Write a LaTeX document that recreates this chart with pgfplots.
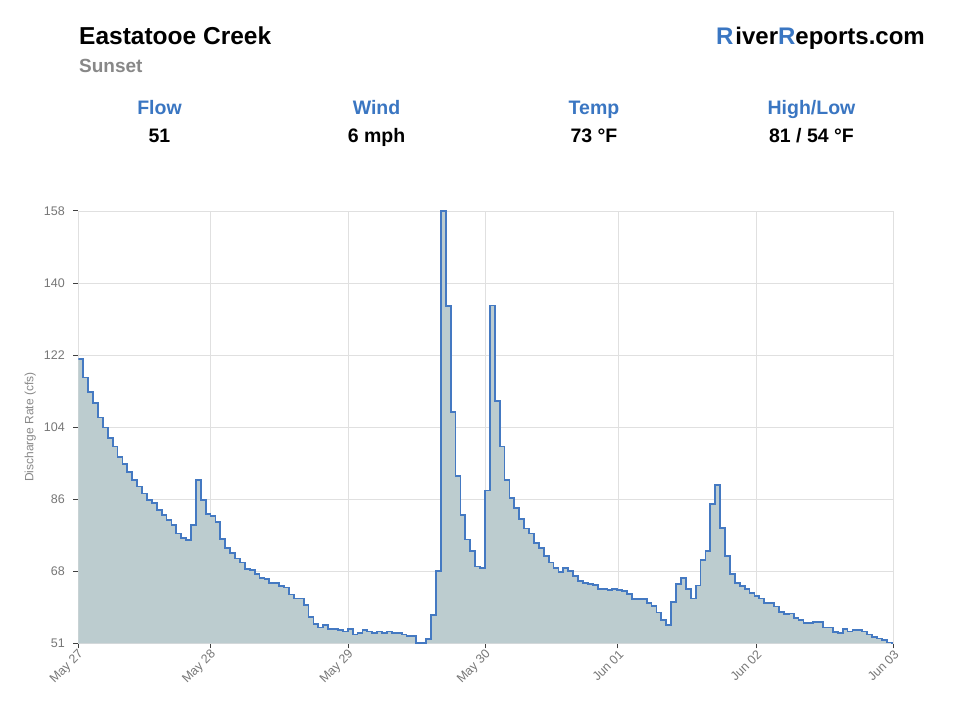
\documentclass[border=0pt]{standalone}
\usepackage{pgfplots}
\usepackage{pgfplotstable}
\pgfplotsset{compat=1.18}
\usepackage{fontspec}
\setmainfont{Liberation Sans}
\definecolor{linec}{HTML}{4479C2}
\definecolor{fillc}{HTML}{BCCCCF}
\definecolor{bluet}{HTML}{3A76C2}
\definecolor{gridc}{HTML}{E0E0E0}
\definecolor{grayt}{HTML}{888888}
\definecolor{tickt}{HTML}{777777}

\pgfplotstableread{
k v
0 121.3
1 116.8
2 113.2
3 110.4
4 106.9
5 104.4
6 101.8
7 99.7
8 97.2
9 95.3
10 93.4
11 91.4
12 89.8
13 88.1
14 86.5
15 85.7
16 84.0
17 82.8
18 81.5
19 80.3
20 78.2
21 77.0
22 76.6
23 80.3
24 91.4
25 86.5
26 83.0
27 82.6
28 81.0
29 76.8
30 74.5
31 73.3
32 72.0
33 71.0
34 69.4
35 69.1
36 68.1
37 67.2
38 67.0
39 66.0
40 66.0
41 65.2
42 64.8
43 63.1
44 62.1
45 62.1
46 60.5
47 57.6
48 55.8
49 54.9
50 55.5
51 54.5
52 54.5
53 54.3
54 53.9
55 54.5
56 53.2
57 53.6
58 54.3
59 53.9
60 53.6
61 53.9
62 53.6
63 53.9
64 53.6
65 53.5
66 53.2
67 52.8
68 52.8
69 51.0
70 51.0
71 52.0
72 58.0
73 68.9
74 158.0
75 134.5
76 108.3
77 92.4
78 82.8
79 76.7
80 73.8
81 70.0
82 69.7
83 88.8
84 134.6
85 111.0
86 99.7
87 91.4
88 86.9
89 84.4
90 81.8
91 79.4
92 78.2
93 75.8
94 74.5
95 72.6
96 71.0
97 69.7
98 68.7
99 69.7
100 68.9
101 67.7
102 66.4
103 66.0
104 65.6
105 65.4
106 64.4
107 64.4
108 64.2
109 64.4
110 64.2
111 63.9
112 63.2
113 62.0
114 62.0
115 62.0
116 60.9
117 60.2
118 58.6
119 56.8
120 55.5
121 61.3
122 65.6
123 67.1
124 64.4
125 62.1
126 65.3
127 71.6
128 73.8
129 85.4
130 90.2
131 79.5
132 72.6
133 68.1
134 65.9
135 65.2
136 64.4
137 63.5
138 62.7
139 62.1
140 60.9
141 60.9
142 60.1
143 58.8
144 58.2
145 58.4
146 57.3
147 56.8
148 56.1
149 56.0
150 56.2
151 56.2
152 54.9
153 54.9
154 53.7
155 53.5
156 54.6
157 53.9
158 54.3
159 54.3
160 53.9
161 53.2
162 52.5
163 52.2
164 51.8
165 51.2
166 51.0
166.33 51.0
}\flow

\begin{document}
\begin{tikzpicture}[x=1pt,y=1pt]
\path[fill=white] (0pt,0pt) rectangle (960pt,720pt);
% header
\node[anchor=base west, inner sep=0pt, font=\fontsize{24.5}{28}\selectfont\bfseries] at (79pt,675pt) {Eastatooe Creek};
\node[anchor=base west, inner sep=0pt, text=grayt, font=\fontsize{19}{23}\selectfont\bfseries] at (79pt,647pt) {Sunset};
\node[anchor=base east, inner sep=0pt, font=\fontsize{24}{28}\selectfont\bfseries] at (925pt,675pt) {\textcolor{bluet}{R}\kern2pt iver\textcolor{bluet}{R}eports.com};
\node[anchor=base, inner sep=0pt, text=bluet, font=\fontsize{19.5}{23}\selectfont\bfseries] at (159.5pt,605pt) {Flow};
\node[anchor=base, inner sep=0pt, text=bluet, font=\fontsize{19.5}{23}\selectfont\bfseries] at (376.5pt,605pt) {Wind};
\node[anchor=base, inner sep=0pt, text=bluet, font=\fontsize{19.5}{23}\selectfont\bfseries] at (594pt,605pt) {Temp};
\node[anchor=base, inner sep=0pt, text=bluet, font=\fontsize{19.5}{23}\selectfont\bfseries] at (811.5pt,605pt) {High/Low};
\node[anchor=base, inner sep=0pt, font=\fontsize{19.5}{23}\selectfont\bfseries] at (159.5pt,577pt) {51};
\node[anchor=base, inner sep=0pt, font=\fontsize{19.5}{23}\selectfont\bfseries] at (376.5pt,577pt) {6 mph};
\node[anchor=base, inner sep=0pt, font=\fontsize{19.5}{23}\selectfont\bfseries] at (594pt,577pt) {73 °F};
\node[anchor=base, inner sep=0pt, font=\fontsize{19.5}{23}\selectfont\bfseries] at (811.5pt,577pt) {81 / 54 °F};
\begin{axis}[
  at={(78.3pt,76.7pt)}, anchor=south west,
  scale only axis, width=815pt, height=432.3pt,
  xmin=0, xmax=166.33, ymin=51, ymax=158,
  axis line style={gridc, line width=0.8pt},
  grid=major, major grid style={gridc, line width=0.9pt},
  xtick={0,27.02,55.10,83.10,110.14,138.31,166.33},
  xticklabels={May 27,May 28,May 29,May 30,Jun 01,Jun 02,Jun 03},
  ytick={51,68.8333,86.6667,104.5,122.3333,140.1667,158},
  yticklabels={51,68,86,104,122,140,158},
  tick align=outside, major tick length=5pt,
  xtick pos=lower, ytick pos=left,
  tick style={black!75, line width=1pt},
  /pgf/number format/assume math mode=true,
  xticklabel style={rotate=45, anchor=east, text=tickt, font=\fontsize{12.5}{14}\selectfont, xshift=3pt, yshift=-5pt},
  yticklabel style={text=tickt, font=\fontsize{12.5}{14}\selectfont, xshift=-5pt},
  ylabel={Discharge Rate (cfs)},
  ylabel style={at={(axis description cs:-0.0589,0.5)}, anchor=center, text=grayt, font=\fontsize{12}{14}\selectfont},
  clip=true,
]
\addplot[const plot, fill=fillc, draw=none] table[x=k,y=v]{\flow} \closedcycle;
\addplot[const plot, draw=linec, line width=1.8pt] table[x=k,y=v]{\flow};
\end{axis}
\end{tikzpicture}
\end{document}
